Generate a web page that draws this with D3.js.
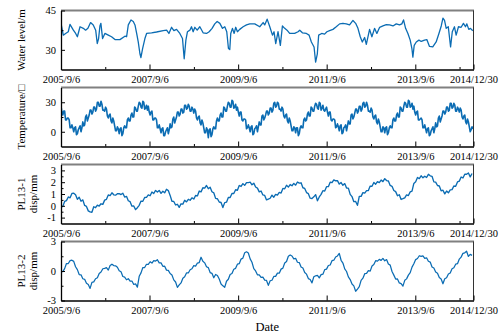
<!DOCTYPE html>
<html>
<head>
<meta charset="utf-8">
<script src="https://cdn.jsdelivr.net/npm/d3@7"></script>
<style>
  body { margin: 0; background: #fff; }
  text { font-family: "Liberation Serif", "Times New Roman", serif; }
</style>
</head>
<body>
<svg id="chart" width="501" height="335"></svg>
<script>
// ---- data ----
const startDate = '2005/9/6';
const endDate = '2014/12/30';
const xTickLabels = ['2005/9/6', '2007/9/6', '2009/9/6', '2011/9/6', '2013/9/6', '2014/12/30'];
const xMinorLabels = ['2006/9/6', '2008/9/6', '2010/9/6', '2012/9/6', '2014/9/6'];
const dispStep = 15;   // days between displacement samples
const tempStep = 7.5;  // days between temperature samples

// water level: days since 2005/9/6, metres
const waterDays = [0,19,38,60,74,102,121,135,157,184,203,222,244,266,286,299,310,321,329,343,
  362,390,417,445,486,527,541,555,577,596,610,624,637,651,659,673,692,706,747,788,
  843,871,890,912,931,953,980,1002,1016,1030,1043,1063,1076,1090,1104,1123,1145,1172,1200,1222,
  1246,1268,1288,1310,1332,1351,1367,1381,1392,1400,1414,1428,1441,1455,1474,1502,1530,1557,1598,1639,
  1667,1680,1700,1722,1744,1757,1771,1790,1809,1826,1845,1864,1886,1927,1955,1969,1991,2024,2046,2065,
  2087,2100,2114,2125,2150,2174,2193,2215,2243,2270,2298,2325,2353,2380,2408,2430,2449,2468,2485,2504,
  2518,2532,2545,2564,2586,2605,2628,2655,2683,2710,2738,2765,2792,2811,2825,2842,2861,2880,2894,2902,
  2913,2930,2952,2971,2998,3017,3039,3066,3094,3117,3136,3150,3163,3177,3194,3213,3227,3245,3259,3278,
  3300,3319,3336,3347,3363,3377,3396];
const waterLevel = [40.1,35.6,36.25,36.9,39.7,37.5,36.25,35.0,38.8,38.2,37.5,38.2,40.4,39.5,37.5,32.4,34.3,39.1,40.1,34.3,
  36.25,35.6,35.0,33.9,33.9,35.2,35.0,39.5,41.4,40.8,39.5,36.25,33.0,28.5,27.0,30.5,34.3,36.25,36.5,36.8,
  37.3,37.5,36.25,38.6,37.3,37.8,36.25,34.3,26.6,33.7,36.9,37.5,38.8,36.9,38.6,37.5,38.8,36.5,36.25,36.9,
  38.2,39.9,40.8,40.1,38.2,38.8,36.9,30.5,30.1,36.25,38.2,36.25,38.6,36.9,37.8,38.8,39.5,39.9,39.9,38.8,
  40.4,39.5,41.7,38.8,35.6,36.9,32.4,36.9,31.7,39.1,38.2,37.5,36.25,36.25,36.9,37.5,36.5,36.25,35.6,33.0,
  31.1,25.3,28.5,35.6,36.25,36.0,36.9,37.3,37.8,38.8,39.9,40.1,39.9,39.5,41.2,40.1,38.2,35.0,33.0,34.7,
  32.1,35.0,37.8,35.0,38.2,36.25,38.6,39.1,39.6,39.5,39.1,39.9,39.5,39.9,41.4,38.2,36.25,33.7,30.5,27.2,
  31.7,33.0,33.7,33.2,33.7,33.9,31.3,31.1,33.0,36.25,39.1,42.1,41.2,38.2,38.8,31.1,36.9,38.8,35.6,38.8,
  38.6,40.1,38.8,39.9,37.8,38.2,37.3];

// temperature, every 7.5 days from 2005/9/6 (one row per season)
const temperature = [
  26,20,17,21,21,12,12,14,14,12,4,4,7,4,0,4,5,-3,-2,2,4,6,0,4,10,6,7,15,17,11,14,17,22,22,18,20,25,25,21,23,30,30,26,26,31,28,22,22,
  21,25,23,16,14,17,18,11,9,14,11,6,1,1,5,3,-2,3,4,-4,-2,4,6,4,4,12,14,11,11,17,19,15,15,25,24,21,21,26,30,29,25,24,31,30,23,24,27,22,
  26,20,17,20,21,12,12,14,14,12,4,4,7,3,-1,3,4,-4,-4,0,2,4,-2,2,8,4,5,13,15,9,12,15,20,20,16,18,23,23,19,20,27,27,23,24,28,26,21,21,25,23,
  19,23,21,14,12,15,16,9,7,12,9,4,-1,-1,4,2,-6,2,3,-5,-3,3,5,3,3,11,14,11,11,17,19,15,15,25,24,21,21,26,30,29,25,25,32,31,24,25,28,22,
  25,20,16,20,20,12,11,13,13,12,3,4,7,4,0,5,6,-3,-2,3,4,6,0,5,10,7,7,16,17,12,14,17,21,21,17,19,24,24,20,22,29,30,25,26,30,29,23,23,
  21,25,23,16,14,17,18,11,9,14,11,6,1,1,5,4,-1,4,4,-4,-2,4,6,4,4,12,14,11,12,18,20,16,16,25,24,21,21,26,29,28,24,23,30,29,22,24,27,22,21,23,
  25,20,16,20,20,12,11,13,13,12,4,5,8,5,1,6,7,-2,-1,4,5,7,1,6,11,8,8,17,18,13,15,19,23,23,19,21,26,26,21,23,29,30,25,26,30,27,21,21,
  20,24,22,15,13,16,17,10,8,13,10,5,0,0,5,4,-1,4,5,-3,-1,4,6,4,4,12,14,11,11,17,19,15,15,25,24,21,21,26,30,29,25,25,32,31,25,26,29,23,
  26,20,17,20,21,12,12,13,14,12,4,4,7,3,-1,3,4,-4,-3,1,3,5,-1,3,9,5,6,14,16,10,13,16,21,21,18,20,25,25,21,22,29,29,24,25,29,27,21,21,25,23,
  20,24,22,15,13,16,17,10,8,13,10,5,0,2,5,3];

// PL13-1 displacement, every 15 days
const pl131 = [
  -0.12,-0.05,0.37,0.44,0.75,0.68,1.05,1.07, 0.93,0.55,0.72,0.39,0.5,0.03,-0.05,-0.43,
  -0.52,-0.55,-0.08,-0.16,0.05,-0.02,0.17,0.12, 0.48,0.55,0.92,0.87,1.1,0.93,0.9,1.02,
  1.03,0.95,1.07,0.74,0.8,0.43,0.35,-0.03, -0.02,-0.32,-0.16,0.04,0.4,0.38,0.7,0.72,
  0.93,0.85,1.17,1.04,1.3,1.16,1.3,1.05, 1.23,1.1,1.4,1.29,0.88,0.38,0.37,0.07,
  0.13,-0.13,0.17,0.14,0.47,0.33,0.55,0.47, 0.68,0.57,0.87,0.84,1.25,1.18,1.53,1.5,
  1.72,1.45,1.57,1.19,1.1,0.63,0.6,0.32, 0.28,-0.15,0.27,0.31,0.7,0.7,1.05,1.04,
  1.36,1.32,1.72,1.64,1.88,1.73,1.97,1.97, 2.0,1.78,1.92,1.59,1.5,1.18,1.25,0.92,
  0.88,0.5,0.57,0.64,0.9,0.73,0.97,0.9, 1.13,1.08,1.47,1.44,1.74,1.58,1.8,1.7,
  1.9,1.75,2.02,1.92,1.95,1.53,1.47,1.12, 1.03,0.65,0.62,0.76,0.95,0.43,0.75,0.97,
  1.28,1.25,1.62,1.62,2.0,1.96,2.2,2.12, 2.13,1.84,1.97,1.74,1.88,1.5,1.5,0.97,
  0.78,0.35,0.37,0.04,0.8,0.8,1.12,1.07, 1.28,1.3,1.67,1.66,1.98,1.83,2.05,1.97,
  2.18,2.05,2.3,2.14,2.1,1.73,1.65,1.3, 1.2,0.85,0.94,0.54,0.6,0.68,0.93,0.87,
  1.18,1.25,1.9,2.04,2.4,2.3,2.54,2.37, 2.51,2.4,2.67,2.54,2.5,2.03,2.0,1.72,
  1.68,1.27,1.32,1.01,1.25,1.1,1.35,1.37, 1.68,1.65,2.02,2.09,2.44,2.36,2.68,2.67,
  2.78,2.45,2.74];

// PL13-2 displacement, every 15 days
const pl132 = [
  -0.07,-0.06,0.24,0.76,0.76,1.05,1.1,0.98, 0.43,0.14,-0.36,-0.39,-0.79,-0.85,-1.25,-1.37,
  -1.77,-1.16,-1.11,-0.79,-0.69,-0.25,-0.1,0.23, 0.27,0.34,0.09,0.56,0.69,0.55,0.53,0.38,
  0.03,-0.08,-0.56,-0.62,-0.89,-0.78,-1.03,-1.02, -1.37,-1.31,-1.64,-0.54,-0.19,0.35,0.35,0.68,
  0.68,0.94,0.81,1.06,1.01,1.15,0.83,0.83, 0.48,0.49,0.09,0.06,-0.26,-0.4,-0.9,-1.12,
  -1.67,-1.41,-1.21,-0.74,-0.59,-0.2,-0.2,0.13, 0.23,0.54,0.49,0.81,0.86,1.4,1.0,0.83,
  0.43,0.34,-0.16,-0.24,-0.69,-0.35,-0.45,-0.82, -1.32,-1.51,-1.66,-1.04,-0.84,-0.35,-0.25,0.18,
  0.27,0.69,0.74,1.21,1.31,1.85,1.95,1.83, 1.23,0.89,0.24,0.01,-0.39,-0.4,-0.65,-0.62,
  -0.92,-0.96,-1.46,-0.99,-0.94,-0.55,-0.55,-0.22, -0.22,0.19,0.29,0.81,0.96,1.5,1.63,1.53,
  1.23,1.29,0.89,0.86,0.41,0.3,-0.15,-0.32, -0.77,-0.86,-1.21,-0.59,-0.49,-0.45,-0.7,-0.37,
  -0.32,0.14,0.19,0.56,0.61,1.05,1.1,1.43, 1.53,1.79,1.09,0.81,0.21,-0.05,-0.6,-0.87,
  -1.32,-1.51,-2.06,-1.84,-1.59,-0.95,-0.73,-0.27, -0.24,0.04,-0.01,0.51,0.66,1.05,1.0,1.18,
  1.08,1.28,1.04,1.16,0.71,0.6,-0.05,-0.42, -0.82,-0.81,-1.21,-1.29,-1.54,-0.95,-0.8,-0.42,
  -0.17,0.39,0.74,1.16,1.27,1.55,1.48,1.53, 1.29,1.34,0.99,0.91,0.41,0.3,-0.1,-0.22,
  -0.67,-0.81,-1.3,-0.79,-0.69,-0.3,-0.2,0.23, 0.33,0.69,0.74,1.21,1.41,1.8,1.85,2.01,
  1.48,1.69,1.59];

// y axes
const waterTicks = [30, 45], waterMinor = [37.5];
const tempTicks = [0, 30], tempMinor = [15];
const pl131Ticks = [-1, 0, 1, 2, 3], pl131Minor = [-0.5, 0.5, 1.5, 2.5];
const pl132Ticks = [-3, 0, 3], pl132Minor = [-1.5, 1.5];

// ---- drawing ----
const parse = d3.timeParse('%Y/%m/%d');
const t0 = parse(startDate);
const svg = d3.select('#chart');
const left = 61, right = 473.5, panelH = 59;
const lineColor = '#0b6cb3';
const DAY = 864e5;

const x = d3.scaleTime()
  .domain([t0, parse(endDate)])
  .range([left, right]);

const regular = (vals, step) => vals.map((v, i) => ({ date: new Date(t0.getTime() + i * step * DAY), v }));

const panels = [
  { top: 10.5, domain: [22.5, 45], ticks: waterTicks, minor: waterMinor, title: ['Water level/m'],
    data: waterDays.map((d, i) => ({ date: new Date(t0.getTime() + d * DAY), v: waterLevel[i] })), width: 1.3 },
  { top: 87.5, domain: [-15, 45], ticks: tempTicks, minor: tempMinor, title: ['Temperature/\u25A1'],
    data: regular(temperature, tempStep), width: 1.6 },
  { top: 164.5, domain: [-1.5, 3.5], ticks: pl131Ticks, minor: pl131Minor, title: ['PL13-1', 'disp/mm'],
    data: regular(pl131, dispStep), width: 1.35 },
  { top: 241.5, domain: [-3, 3], ticks: pl132Ticks, minor: pl132Minor, title: ['PL13-2', 'disp/mm'],
    data: regular(pl132, dispStep), width: 1.25 }
];

panels.forEach((p, k) => {
  const bottom = p.top + panelH;
  const y = d3.scaleLinear().domain(p.domain).range([bottom, p.top]);

  // Clip the line to the plot box
  svg.append('clipPath').attr('id', 'clip' + k)
    .append('rect')
      .attr('x', left).attr('y', p.top)
      .attr('width', right - left).attr('height', panelH);

  svg.append('path')
    .datum(p.data)
    .attr('clip-path', 'url(#clip' + k + ')')
    .attr('fill', 'none')
    .attr('stroke', lineColor)
    .attr('stroke-width', p.width)
    .attr('stroke-linejoin', 'round')
    .attr('d', d3.line()
      .x((d) => x(d.date))
      .y((d) => y(d.v))
    );

  // Box: grey top, dark right
  svg.append('line')
    .attr('x1', left).attr('x2', right + 0.5)
    .attr('y1', p.top).attr('y2', p.top)
    .attr('stroke', '#808080').attr('stroke-width', 2);
  svg.append('line')
    .attr('x1', right).attr('x2', right)
    .attr('y1', p.top).attr('y2', bottom)
    .attr('stroke', '#333').attr('stroke-width', 1);

  // Y axis
  const yAxis = svg.append('g')
    .attr('transform', 'translate(' + left + ',0)')
    .call(d3.axisLeft(y).tickValues(p.ticks).tickFormat((d) => String(d))
      .tickSizeInner(-4).tickSizeOuter(0).tickPadding(5));
  svg.append('g')
    .attr('transform', 'translate(' + left + ',0)')
    .call(d3.axisLeft(y).tickValues(p.minor).tickSize(-2.5).tickFormat(''))
    .call((g) => g.select('.domain').remove());

  // X axis
  const xAxis = svg.append('g')
    .attr('transform', 'translate(0,' + bottom + ')')
    .call(d3.axisBottom(x)
      .tickValues(xTickLabels.map(parse))
      .tickFormat((d, i) => xTickLabels[i])
      .tickSizeInner(-5).tickSizeOuter(0).tickPadding(6));
  svg.append('g')
    .attr('transform', 'translate(0,' + bottom + ')')
    .call(d3.axisBottom(x).tickValues(xMinorLabels.map(parse)).tickSize(-2.5).tickFormat(''))
    .call((g) => g.select('.domain').remove());

  [yAxis, xAxis].forEach((g) => {
    g.attr('font-size', 10.5);
    g.selectAll('text').attr('fill', '#000');
    g.select('.domain').attr('stroke', '#000').attr('stroke-width', 1.3);
  });
  svg.selectAll('.tick line').attr('stroke', '#000');

  // Y title
  const cy = (p.top + bottom) / 2;
  const xs = p.title.length === 1 ? [21] : [21, 33];
  p.title.forEach((t, j) => {
    svg.append('text')
      .attr('transform', 'translate(' + xs[j] + ',' + cy + ') rotate(-90)')
      .attr('text-anchor', 'middle')
      .attr('dominant-baseline', 'central')
      .attr('font-size', 11)
      .text(t);
  });
});

// X title
svg.append('text')
  .attr('x', (left + right) / 2)
  .attr('y', 331)
  .attr('text-anchor', 'middle')
  .attr('font-size', 12.5)
  .text('Date');
</script>
</body>
</html>
